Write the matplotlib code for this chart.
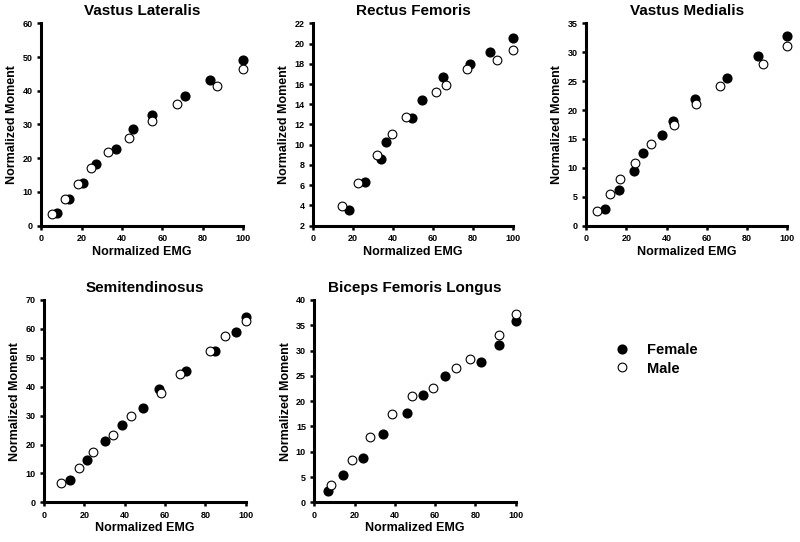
import matplotlib
matplotlib.use('Agg')
import matplotlib.pyplot as plt

plt.rcParams['font.family'] = ['Liberation Sans', 'DejaVu Sans']
plt.rcParams['font.weight'] = 'bold'

# Vastus Lateralis
vl_female_x = [7.7, 14.0, 20.6, 27.2, 36.9, 45.6, 54.7, 71.2, 83.5, 100]
vl_female_y = [3.9, 7.9, 12.6, 18.2, 22.8, 28.8, 32.8, 38.4, 43.3, 49.1]
vl_male_x = [5.6, 12.0, 18.5, 24.7, 33.3, 43.7, 54.7, 67.4, 87.0, 100]
vl_male_y = [3.4, 7.9, 12.4, 17.0, 21.8, 25.9, 31.0, 36.1, 41.4, 46.4]

# Rectus Femoris
rf_female_x = [17.9, 26.1, 34.1, 36.4, 49.3, 54.7, 65.0, 78.2, 88.2, 100]
rf_female_y = [3.55, 6.3, 8.6, 10.3, 12.6, 14.45, 16.7, 17.95, 19.2, 20.5]
rf_male_x = [14.8, 22.8, 31.9, 39.7, 46.7, 61.6, 66.3, 77.1, 91.9, 100]
rf_male_y = [3.9, 6.25, 9.0, 11.1, 12.75, 15.2, 15.9, 17.45, 18.4, 19.4]

# Vastus Medialis
vm_female_x = [9.3, 16.2, 23.7, 28.1, 37.6, 43.2, 54.0, 70.2, 85.4, 100]
vm_female_y = [2.9, 6.1, 9.5, 12.5, 15.7, 18.1, 21.9, 25.5, 29.3, 32.8]
vm_male_x = [5.6, 11.9, 17.1, 24.5, 32.1, 43.9, 54.8, 66.7, 87.7, 100]
vm_male_y = [2.5, 5.4, 8.0, 10.9, 14.1, 17.4, 21.0, 24.2, 28.0, 31.1]

# Semitendinosus
st_female_x = [12.7, 21.2, 30.1, 38.7, 49.3, 56.9, 70.2, 84.8, 95.2, 100]
st_female_y = [7.7, 14.8, 21.2, 26.8, 32.5, 39.1, 45.3, 52.5, 58.8, 64.2]
st_male_x = [8.6, 17.4, 24.3, 34.0, 43.3, 58.0, 67.6, 82.3, 89.9, 100]
st_male_y = [6.7, 12.0, 17.3, 23.2, 29.8, 37.9, 44.4, 52.5, 57.4, 62.9]

# Biceps Femoris Longus
bf_female_x = [6.8, 14.2, 24.0, 34.1, 46.2, 54.1, 64.9, 82.8, 91.6, 100]
bf_female_y = [2.3, 5.5, 8.8, 13.5, 17.7, 21.2, 24.9, 27.8, 31.2, 35.8]
bf_male_x = [8.4, 18.9, 27.5, 38.6, 48.3, 58.8, 70.4, 77.5, 91.7, 100]
bf_male_y = [3.4, 8.3, 12.9, 17.5, 21.0, 22.7, 26.6, 28.3, 33.1, 37.2]

titles = ['Vastus Lateralis', 'Rectus Femoris', 'Vastus Medialis',
          'Semitendinosus', 'Biceps Femoris Longus']
ylims = [(0, 60), (2, 22), (0, 35), (0, 70), (0, 40)]
ysteps = [10, 2, 5, 10, 5]
panels = [
    (vl_female_x, vl_female_y, vl_male_x, vl_male_y),
    (rf_female_x, rf_female_y, rf_male_x, rf_male_y),
    (vm_female_x, vm_female_y, vm_male_x, vm_male_y),
    (st_female_x, st_female_y, st_male_x, st_male_y),
    (bf_female_x, bf_female_y, bf_male_x, bf_male_y),
]
# axes boxes in figure fractions
boxes = [
    [0.0513, 0.5836, 0.2529, 0.3734],
    [0.3909, 0.5836, 0.2508, 0.3734],
    [0.7325, 0.5836, 0.2516, 0.3734],
    [0.0550, 0.0732, 0.2521, 0.3733],
    [0.3929, 0.0732, 0.2518, 0.3733],
]

fig = plt.figure(figsize=(8, 5.42), dpi=100)

for i in range(5):
    fx, fy, mx, my = panels[i]
    ax = fig.add_axes(boxes[i])
    ax.plot(fx, fy, 'o', color='black', markersize=6.3, clip_on=False, zorder=3)
    ax.plot(mx, my, 'o', markerfacecolor='white', markeredgecolor='black',
            markeredgewidth=0.8, markersize=6.3, clip_on=False, zorder=4)
    lo, hi = ylims[i]
    ax.set_xlim(0, 100)
    ax.set_ylim(lo, hi)
    ax.set_xticks(range(0, 101, 20))
    ax.set_yticks(range(lo, hi + 1, ysteps[i]))
    ax.spines['top'].set_visible(False)
    ax.spines['right'].set_visible(False)
    ax.spines['left'].set_linewidth(2.2)
    ax.spines['bottom'].set_linewidth(2.2)
    ax.tick_params(direction='out', length=3, width=1.8, labelsize=6.5, pad=3)
    for lab in ax.get_xticklabels() + ax.get_yticklabels():
        lab.set_fontweight('bold')
    ax.set_title(titles[i], fontsize=11, fontweight='bold', pad=6)
    ax.set_xlabel('Normalized EMG', fontsize=9, fontweight='bold', labelpad=2)
    ax.set_ylabel('Normalized Moment', fontsize=9, fontweight='bold', labelpad=3)

# legend
fig.legend(handles=[
    plt.Line2D([], [], marker='o', linestyle='none', color='black', markersize=6.3, label='Female'),
    plt.Line2D([], [], marker='o', linestyle='none', markerfacecolor='white',
               markeredgecolor='black', markeredgewidth=0.8, markersize=6.3, label='Male'),
], loc='center left', bbox_to_anchor=(0.752, 0.337), frameon=False,
    prop={'size': 10.5, 'weight': 'bold'}, handletextpad=1.2, labelspacing=0.3,
    handlelength=1.0)

fig.savefig('out.png', dpi=100)
